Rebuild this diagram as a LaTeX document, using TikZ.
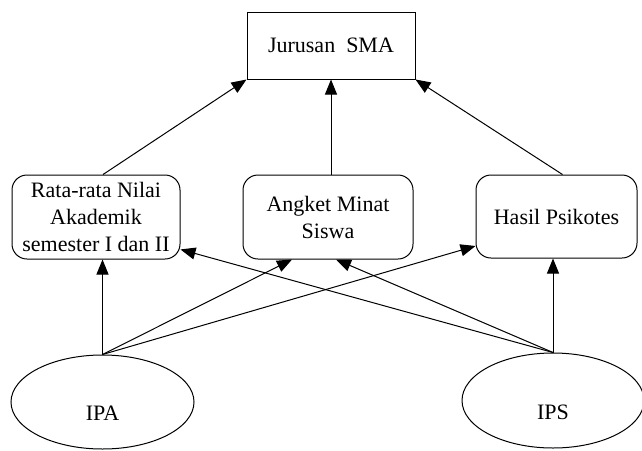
\documentclass[tikz,border=0pt]{standalone}
\usepackage{fontspec}
\setmainfont{Liberation Serif}
\usetikzlibrary{arrows.meta,shapes.geometric}
\tikzset{
  kotak/.style={draw, align=center, inner sep=1pt},
  kotakbulat/.style={kotak, rounded corners=7.5pt},
  oval/.style={draw, ellipse, inner sep=1pt, text height=18.8pt, text depth=0pt}
}
\begin{document}
\begin{tikzpicture}[x=0.5pt,y=-0.5pt,font=\fontsize{11}{13.5}\selectfont,line width=0.5pt,>={Triangle[length=7.5pt,width=6pt]}]
\useasboundingbox (0,0) rectangle (642,450);
\node[kotak, minimum width=84pt, minimum height=33.5pt] (sma) at (331,45.5) {Jurusan~~SMA};

\node[kotakbulat, minimum width=84pt, minimum height=42pt] (nilai) at (96,217) {Rata-rata Nilai\\Akademik\\semester I dan II};
\node[kotakbulat, minimum width=85pt, minimum height=42pt] (minat) at (328,217) {Angket Minat\\Siswa};
\node[kotakbulat, minimum width=80.5pt, minimum height=41.5pt] (psikotes) at (556.5,216.5) {Hasil Psikotes};

\node[oval, minimum width=91.5pt, minimum height=47pt] (ipa) at (102.5,402) {IPA};
\node[oval, minimum width=91pt, minimum height=47.5pt] (ips) at (553,400.5) {IPS};

\draw[->] ([xshift=3.5pt]nilai.north) -- (sma.south west);
\draw[->] (sma.south |- minat.north) -- (sma.south);
\draw[->] ([xshift=3pt]psikotes.north) -- (sma.south east);

\draw[->] (ipa.north) -- (ipa.north |- nilai.south);
\draw[->] (ipa.north) -- ([xshift=-18pt]minat.south);
\draw[->] (ipa.north) -- (psikotes.200);

\draw[->] (ips.north) -- (ips.north |- psikotes.south);
\draw[->] (ips.north) -- ([xshift=4pt]minat.south);
\draw[->] (ips.north) -- (nilai.339);
\end{tikzpicture}
\end{document}
